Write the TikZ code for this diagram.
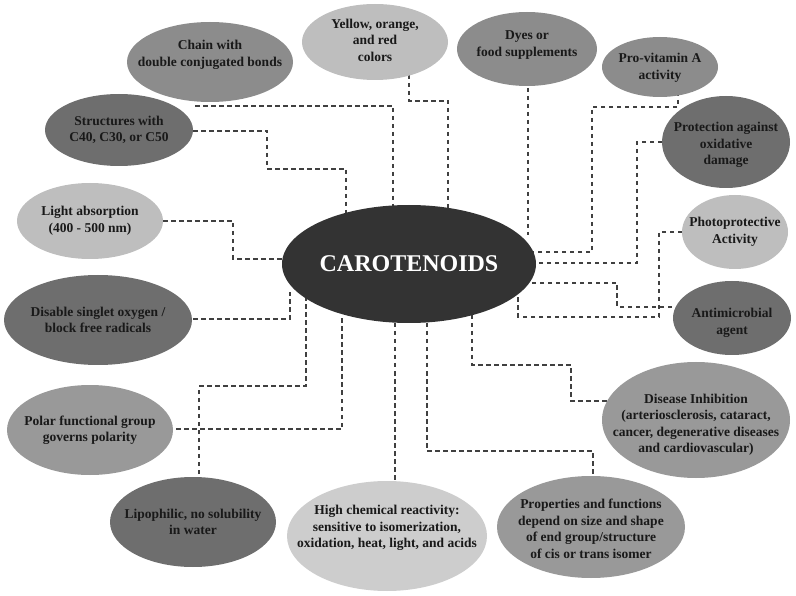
\documentclass[tikz,border=0pt]{standalone}
\usepackage{fontspec}
\setmainfont{Liberation Serif}
\definecolor{cdark}{HTML}{333333}
\definecolor{gmed}{HTML}{8C8C8C}
\definecolor{gmedl}{HTML}{999999}
\definecolor{gdark}{HTML}{6E6E6E}
\definecolor{glight}{HTML}{BEBEBE}
\definecolor{glighter}{HTML}{CDCDCD}
\tikzset{
 txt/.style={align=center,inner sep=0pt,font=\bfseries\fontsize{13.5}{16.5}\selectfont,text=black!90},
 link/.style={draw=black!75,dash pattern=on 4.5pt off 3.5pt,line width=1.4pt}
}
\newcommand{\bubble}[6]{% name, x, y, rx, ry, colour ; text follows via node
 \fill[#6] (#2,#3) ellipse [x radius=#4, y radius=#5];
}
\begin{document}
\begin{tikzpicture}[x=1pt,y=-1pt]
\useasboundingbox (0,0) rectangle (796,596);
% connectors
\draw[link] (195,106) -- (393,106) -- (393,215);
\draw[link] (409,75) -- (409,101) -- (448,101) -- (448,215);
\draw[link] (185,131) -- (267,131) -- (267,169) -- (346,169) -- (346,215);
\draw[link] (155,221) -- (233,221) -- (233,259) -- (290,259);
\draw[link] (528,80) -- (528,235);
\draw[link] (678,92) -- (678,107) -- (592,107) -- (592,252) -- (530,252);
\draw[link] (670,142) -- (637,142) -- (637,263) -- (530,263);
\draw[link] (690,232) -- (659,232) -- (659,317) -- (518,317) -- (518,295);
\draw[link] (680,307) -- (617,307) -- (617,283) -- (530,283);
\draw[link] (185,319) -- (290,319) -- (290,292);
\draw[link] (199,482) -- (199,386) -- (306,386) -- (306,295);
\draw[link] (168,429) -- (342,429) -- (342,316);
\draw[link] (395,315) -- (395,487);
\draw[link] (427,315) -- (427,451) -- (593,451) -- (593,482);
\draw[link] (472,315) -- (472,365) -- (571,365) -- (571,401) -- (608,401);
% bubbles
\bubble{c}{409}{264}{127}{59}{cdark}
\bubble{chain}{210}{62}{83}{40}{gmed}
\bubble{yel}{375}{42}{73}{38}{glight}
\bubble{dyes}{527}{49}{70}{37}{gmed}
\bubble{pro}{660}{67}{58}{30}{gmed}
\bubble{prot}{726}{142}{64}{46}{gdark}
\bubble{photo}{735}{232}{53}{37}{glight}
\bubble{anti}{732}{318}{59}{37}{gdark}
\bubble{dis}{696}{420}{94}{58}{gmedl}
\bubble{propf}{591}{527}{94}{51}{gmedl}
\bubble{high}{387}{536}{100}{55}{glighter}
\bubble{lip}{193}{522}{83}{45}{gdark}
\bubble{polar}{90}{430}{83}{45}{gmedl}
\bubble{dsab}{98}{320}{94}{45}{gdark}
\bubble{light}{90}{221}{73}{38}{glight}
\bubble{struct}{119}{130}{74}{36}{gdark}
% texts
\node[txt,text=white,font=\bfseries\fontsize{24}{28}\selectfont] (c) at (409,264) {CAROTENOIDS};
\node[txt] (chain) at (210,55) {Chain with\\double conjugated bonds};
\node[txt] (yel) at (375,40) {Yellow, orange,\\and red\\colors};
\node[txt] (dyes) at (527,45) {Dyes or\\food supplements};
\node[txt] (pro) at (660,68) {Pro-vitamin A\\activity};
\node[txt] (prot) at (726,145) {Protection against\\oxidative\\damage};
\node[txt] (photo) at (735,232) {Photoprotective\\Activity};
\node[txt] (anti) at (732,323) {Antimicrobial\\agent};
\node[txt] (dis) at (696,425) {Disease Inhibition\\(arteriosclerosis, cataract,\\cancer, degenerative diseases\\and cardiovascular)};
\node[txt] (propf) at (591,529) {Properties and functions\\depend on size and shape\\of end group/structure\\of cis or trans isomer};
\node[txt] (high) at (387,528) {High chemical reactivity:\\sensitive to isomerization,\\oxidation, heat, light, and acids};
\node[txt] (lip) at (193,522) {Lipophilic, no solubility\\in water};
\node[txt] (polar) at (90,430) {Polar functional group\\governs polarity};
\node[txt] (dsab) at (98,320) {Disable singlet oxygen /\\block free radicals};
\node[txt] (light) at (90,221) {Light absorption\\(400 - 500 nm)};
\node[txt] (struct) at (119,130) {Structures with\\C40, C30, or C50};
\end{tikzpicture}
\end{document}
